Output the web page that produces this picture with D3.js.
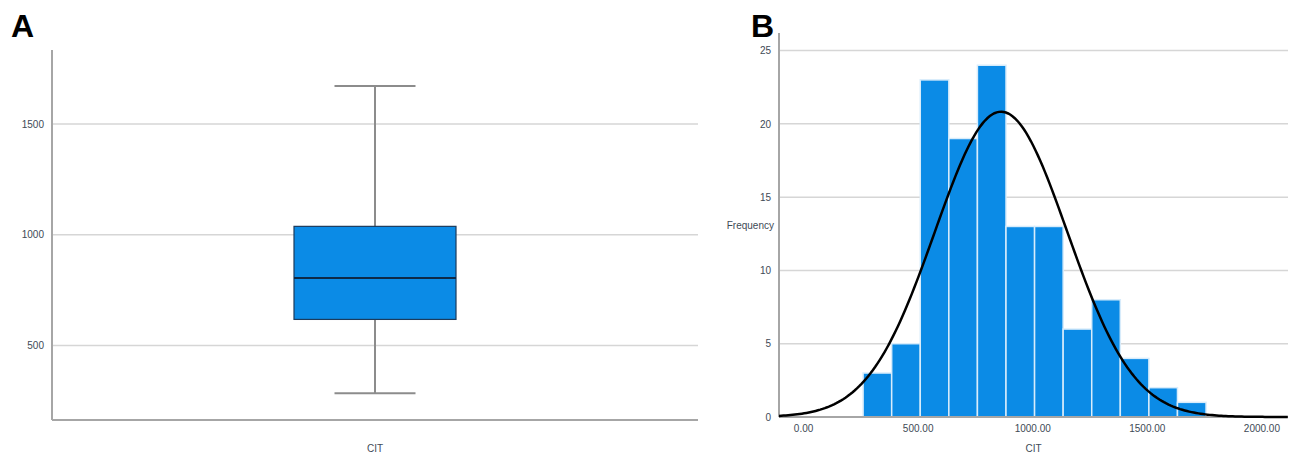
<!DOCTYPE html>
<html>
<head>
<meta charset="utf-8">
<script src="https://cdn.jsdelivr.net/npm/d3@7"></script>
<style>
  body { margin: 0; background: #fff; }
  text { font-family: "Liberation Sans", Arial, sans-serif; }
</style>
</head>
<body>
<svg id="chart" width="1294" height="457"></svg>
<script>
// Panel A: box plot of CIT
const boxCategory = "CIT";
const boxStats = { min: 285, q1: 618, median: 805, q3: 1038, max: 1671 };
const boxTicks = [500, 1000, 1500];

// Panel B: histogram of CIT with normal curve
const binStart = 262;
const binWidth = 124.7;
const binCounts = [3, 5, 23, 19, 24, 13, 13, 6, 8, 4, 2, 1];
const histXTicks = [0, 500, 1000, 1500, 2000];
const histYTicks = [0, 5, 10, 15, 20, 25];
const fitMean = 864;
const fitSd = 289;
const fitN = 121;

const blue = "#0b8be6";
const gridColor = "#d6d6d6";
const axisColor = "#a6a6a6";
const labelColor = "#3e4a56";

const svg = d3.select("#chart");

// ---------- Panel A ----------
const a = { left: 52, right: 698, top: 50, bottom: 420 };

const xA = d3.scaleBand()
    .domain([boxCategory])
    .range([a.left, a.right]);

const yA = d3.scaleLinear()
    .domain([164, 1834])
    .range([a.bottom, a.top]);

const gA = svg.append("g");

// grid
gA.selectAll(".grid")
    .data(boxTicks)
    .enter().append("line")
    .attr("x1", a.left).attr("x2", a.right)
    .attr("y1", d => yA(d)).attr("y2", d => yA(d))
    .attr("stroke", gridColor).attr("stroke-width", 1.5);

// y axis
const axA = gA.append("g")
    .attr("transform", "translate(" + a.left + ",0)")
    .call(d3.axisLeft(yA).tickValues(boxTicks).tickFormat(d3.format("d")).tickSize(0).tickPadding(8));
axA.select(".domain").remove();
axA.selectAll("text").attr("fill", labelColor).style("font-size", "10px");

gA.append("line")
    .attr("x1", a.left).attr("x2", a.left)
    .attr("y1", a.top).attr("y2", a.bottom)
    .attr("stroke", axisColor).attr("stroke-width", 2);
gA.append("line")
    .attr("x1", a.left).attr("x2", a.right)
    .attr("y1", a.bottom).attr("y2", a.bottom)
    .attr("stroke", axisColor).attr("stroke-width", 2);

// box
const cx = xA(boxCategory) + xA.bandwidth() / 2;
const boxW = 162;
const capW = 81;

gA.append("line")
    .attr("x1", cx).attr("x2", cx)
    .attr("y1", yA(boxStats.max)).attr("y2", yA(boxStats.min))
    .attr("stroke", "#8c8c8c").attr("stroke-width", 2);
[boxStats.min, boxStats.max].forEach(v => {
    gA.append("line")
        .attr("x1", cx - capW / 2).attr("x2", cx + capW / 2)
        .attr("y1", yA(v)).attr("y2", yA(v))
        .attr("stroke", "#8c8c8c").attr("stroke-width", 2);
});
gA.append("rect")
    .attr("x", cx - boxW / 2)
    .attr("width", boxW)
    .attr("y", yA(boxStats.q3))
    .attr("height", yA(boxStats.q1) - yA(boxStats.q3))
    .attr("fill", blue)
    .attr("stroke", "#1c3b5c").attr("stroke-width", 1.2);
gA.append("line")
    .attr("x1", cx - boxW / 2).attr("x2", cx + boxW / 2)
    .attr("y1", yA(boxStats.median)).attr("y2", yA(boxStats.median))
    .attr("stroke", "#0e2a48").attr("stroke-width", 2);

gA.append("text")
    .attr("x", cx).attr("y", 452)
    .attr("text-anchor", "middle")
    .attr("fill", labelColor)
    .style("font-size", "10px")
    .text(boxCategory);

svg.append("text")
    .attr("x", 11).attr("y", 37)
    .style("font-size", "32px").style("font-weight", "bold")
    .attr("fill", "#000")
    .text("A");

// ---------- Panel B ----------
const b = { left: 779, right: 1288, top: 33, bottom: 417 };

const xB = d3.scaleLinear()
    .domain([-105, 2116])
    .range([b.left, b.right]);

const yB = d3.scaleLinear()
    .domain([0, 26.2])
    .range([b.bottom, b.top]);

const gB = svg.append("g");

gB.selectAll(".grid")
    .data(histYTicks.filter(d => d > 0))
    .enter().append("line")
    .attr("x1", b.left).attr("x2", b.right)
    .attr("y1", d => yB(d)).attr("y2", d => yB(d))
    .attr("stroke", gridColor).attr("stroke-width", 1.5);

const bins = binCounts.map((c, i) => ({
    x0: binStart + i * binWidth,
    x1: binStart + (i + 1) * binWidth,
    count: c
}));

gB.selectAll(".bar")
    .data(bins)
    .enter().append("rect")
    .attr("x", d => xB(d.x0))
    .attr("width", d => xB(d.x1) - xB(d.x0))
    .attr("y", d => yB(d.count))
    .attr("height", d => yB(0) - yB(d.count))
    .attr("fill", blue)
    .attr("stroke", "#d8ecfb").attr("stroke-width", 1.5);

const axBy = gB.append("g")
    .attr("transform", "translate(" + b.left + ",0)")
    .call(d3.axisLeft(yB).tickValues(histYTicks).tickSize(0).tickPadding(8));
axBy.select(".domain").remove();
axBy.selectAll("text").attr("fill", labelColor).style("font-size", "10px");

const axBx = gB.append("g")
    .attr("transform", "translate(0," + b.bottom + ")")
    .call(d3.axisBottom(xB).tickValues(histXTicks).tickFormat(d3.format(".2f")).tickSize(0).tickPadding(8));
axBx.select(".domain").remove();
axBx.selectAll("text").attr("fill", labelColor).style("font-size", "10px");

gB.append("line")
    .attr("x1", b.left).attr("x2", b.left)
    .attr("y1", b.top).attr("y2", b.bottom)
    .attr("stroke", axisColor).attr("stroke-width", 2);
gB.append("line")
    .attr("x1", b.left).attr("x2", b.right)
    .attr("y1", b.bottom).attr("y2", b.bottom)
    .attr("stroke", axisColor).attr("stroke-width", 2);

// fitted normal curve
const density = v => fitN * binWidth / (fitSd * Math.sqrt(2 * Math.PI)) *
    Math.exp(-0.5 * Math.pow((v - fitMean) / fitSd, 2));
const curvePts = d3.range(xB.domain()[0], xB.domain()[1] + 1, 10);

gB.append("path")
    .datum(curvePts)
    .attr("fill", "none")
    .attr("stroke", "#000")
    .attr("stroke-width", 2.5)
    .attr("d", d3.line()
        .x(d => xB(d))
        .y(d => yB(density(d)))
    );

gB.append("text")
    .attr("x", 774).attr("y", 229)
    .attr("text-anchor", "end")
    .attr("fill", labelColor)
    .style("font-size", "10px")
    .text("Frequency");

gB.append("text")
    .attr("x", (b.left + b.right) / 2).attr("y", 452)
    .attr("text-anchor", "middle")
    .attr("fill", labelColor)
    .style("font-size", "10px")
    .text("CIT");

svg.append("text")
    .attr("x", 751).attr("y", 37)
    .style("font-size", "32px").style("font-weight", "bold")
    .attr("fill", "#000")
    .text("B");
</script>
</body>
</html>
